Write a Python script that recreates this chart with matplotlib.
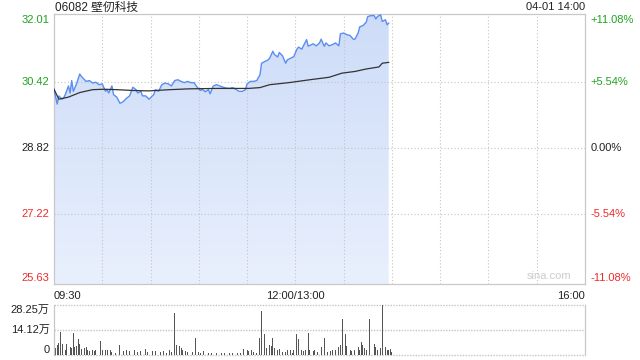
import matplotlib
matplotlib.use('Agg')
import matplotlib.pyplot as plt
import numpy as np
from matplotlib.colors import LinearSegmentedColormap
from matplotlib.transforms import offset_copy

plt.rcParams['font.family'] = ['Liberation Sans', 'Noto Sans CJK SC', 'DejaVu Sans']

# ---------------- data ----------------
title = "06082 壁仞科技"
stamp = "04-01 14:00"
prev_close = 28.82
price_ticks = [32.01, 30.42, 28.82, 27.22, 25.63]
pct_ticks = ["+11.08%", "+5.54%", "0.00%", "-5.54%", "-11.08%"]
time_ticks = [0, 150, 330]
time_labels = ["09:30", "12:00/13:00", "16:00"]
vol_tick_vals = [28.25, 14.12, 0]
vol_tick_labels = ["28.25万", "14.12万", "0"]

# minutes since 09:30 (lunch break removed)
price_min = [0, 2, 3, 5, 6, 7, 9, 10, 11, 12, 14, 16, 17, 19, 20, 22, 24, 26, 28, 30,
             32, 33, 34, 36, 37, 39, 41, 43, 45, 47, 49, 51, 52, 54, 55, 57, 59, 62, 63, 65,
             67, 69, 71, 73, 75, 77, 79, 81, 83, 85, 87, 89, 91, 92, 94, 96, 97, 99, 101, 103,
             105, 107, 109, 111, 113, 115, 117, 119, 120, 122, 124, 126, 128, 129, 131, 133, 134, 136, 137, 139,
             140, 142, 144, 145, 147, 149, 151, 152, 154, 155, 157, 158, 161, 163, 165, 166, 168, 169, 171, 173,
             175, 177, 178, 180, 182, 184, 186, 187, 189, 190, 192, 194, 195, 197, 199, 200, 201, 203, 204, 206,
             207, 208]
price = [30.24, 29.88, 30.08, 30.00, 30.03, 30.11, 30.32, 30.15, 30.45, 30.19, 30.37, 30.61, 30.55, 30.47, 30.43, 30.45, 30.39, 30.41, 30.35, 30.37,
         30.19, 30.23, 30.15, 30.32, 30.11, 30.05, 29.90, 29.94, 30.02, 30.08, 30.29, 30.23, 30.15, 30.19, 30.08, 30.08, 30.00, 30.11, 30.23, 30.19,
         30.35, 30.39, 30.37, 30.32, 30.45, 30.47, 30.43, 30.40, 30.43, 30.40, 30.40, 30.29, 30.21, 30.24, 30.18, 30.23, 30.13, 30.32, 30.35, 30.32,
         30.29, 30.27, 30.26, 30.28, 30.24, 30.19, 30.19, 30.23, 30.37, 30.43, 30.43, 30.45, 30.59, 30.87, 30.91, 30.95, 30.99, 31.16, 31.08, 31.02,
         31.13, 31.05, 30.87, 30.95, 30.99, 31.03, 31.21, 31.26, 31.21, 31.29, 31.44, 31.28, 31.34, 31.29, 31.36, 31.45, 31.28, 31.36, 31.29, 31.32,
         31.36, 31.29, 31.58, 31.60, 31.56, 31.54, 31.45, 31.45, 31.60, 31.75, 31.78, 31.86, 32.00, 32.02, 32.02, 31.94, 32.00, 32.04, 31.88, 31.92,
         31.80, 31.84]

avg_min = [0, 3, 9, 16, 24, 31, 39, 49, 59, 72, 84, 101, 121, 128, 134, 146, 159, 171, 179, 187, 194, 202, 204, 208]
avg = [30.24, 30.00, 30.05, 30.16, 30.23, 30.24, 30.23, 30.21, 30.20, 30.23, 30.25, 30.26, 30.26, 30.28, 30.35, 30.40, 30.47, 30.53, 30.63, 30.67, 30.73, 30.78, 30.87, 30.89]

# volume in 万 shares
vol_min = [1, 2, 3, 4, 5, 7, 8, 10, 11, 12, 13, 14, 15, 16, 17, 19, 20, 21, 22, 24,
           25, 26, 29, 30, 32, 33, 35, 36, 38, 41, 43, 45, 47, 50, 52, 54, 57, 58, 61, 63,
           66, 68, 70, 72, 73, 75, 76, 78, 79, 80, 82, 83, 86, 88, 90, 91, 93, 96, 98, 101,
           104, 106, 109, 111, 114, 116, 118, 120, 121, 123, 124, 126, 128, 129, 131, 132, 134, 135, 136, 137,
           139, 140, 142, 144, 145, 147, 148, 149, 151, 152, 154, 155, 156, 158, 159, 161, 162, 164, 166, 168,
           170, 172, 173, 175, 177, 178, 179, 181, 182, 184, 185, 187, 189, 190, 191, 192, 193, 194, 196, 197,
           199, 200, 201, 203, 204, 206, 207, 208, 209, 210]
vol = [4.0, 5.9, 6.8, 13.2, 6.4, 3.1, 6.4, 4.6, 4.0, 12.7, 4.6, 5.3, 9.0, 6.4, 3.5, 4.0, 4.6, 3.1, 2.2, 2.8,
       2.2, 2.8, 7.7, 2.8, 2.8, 3.1, 2.8, 1.7, 1.3, 5.9, 2.2, 2.8, 2.2, 3.1, 1.7, 2.2, 3.5, 1.7, 2.2, 2.2,
       1.7, 2.2, 1.3, 3.1, 1.7, 23.7, 5.9, 5.3, 4.0, 2.8, 2.2, 1.7, 1.7, 9.5, 1.7, 1.3, 2.2, 1.3, 1.3, 0.9,
       1.3, 0.9, 0.9, 0.9, 0.9, 1.3, 3.5, 2.8, 2.2, 3.1, 1.7, 1.3, 9.5, 24.8, 11.9, 4.0, 5.9, 5.3, 9.5, 4.0,
       3.1, 3.5, 1.7, 1.7, 2.8, 3.1, 1.3, 2.8, 11.9, 9.0, 3.1, 2.2, 3.1, 12.7, 2.8, 2.2, 2.8, 1.7, 4.6, 9.5,
       1.7, 2.2, 3.1, 2.8, 4.6, 5.9, 20.5, 11.9, 5.3, 2.8, 2.2, 2.8, 4.6, 3.1, 7.2, 5.9, 4.0, 3.1, 20.5, 7.7,
       6.4, 4.6, 3.1, 4.0, 28.25, 4.6, 3.1, 2.8, 3.5, 1.7]

# ---------------- style ----------------
GREEN = '#1fa31f'
RED = '#ee2b2b'
BORDER = '#c8c8c8'
GRID = '#c4c4c4'
LINE = '#5b8ef0'

W, H = 640, 360
fig = plt.figure(figsize=(6.4, 3.6), dpi=100)

def px_rect(l, t, r, b):
    return [l / W, 1 - b / H, (r - l) / W, (b - t) / H]

ax = fig.add_axes(px_rect(54, 14, 585, 284))
axv = fig.add_axes(px_rect(54, 305, 585, 355))

ymin, ymax = 25.53, 32.06
ax.set_xlim(0, 330)
ax.set_ylim(ymin, ymax)

# gradient fill under price line
xs = np.array(price_min, dtype=float)
ys = np.array(price, dtype=float)
poly = ax.fill_between(xs, ys, ymin, color='none', lw=0)
cmap = LinearSegmentedColormap.from_list('g', ['#e9f0fd', '#cddcf8'])
grad = np.linspace(0, 1, 256).reshape(-1, 1)
im = ax.imshow(grad, cmap=cmap, aspect='auto', origin='lower',
               extent=[0, 330, ymin, ymax], zorder=1)
path = poly.get_paths()[0]
im.set_clip_path(path, transform=ax.transData)

ax.plot(price_min, price, color=LINE, lw=1.0, zorder=3)
ax.plot(avg_min, avg, color='#333333', lw=0.9, zorder=3)

# grids
for m in range(30, 330, 30):
    ax.axvline(m, color=GRID, lw=0.8, ls=(0, (1, 2)), zorder=2)
for v in price_ticks[1:-1]:
    ax.axhline(v, color=GRID, lw=0.8, ls=(0, (1, 2)), zorder=2)

for s in ax.spines.values():
    s.set_color(BORDER)
    s.set_linewidth(0.9)
ax.set_xticks([])
ax.set_yticks([])

# price labels (left) and percent labels (right)
colors = [GREEN, GREEN, '#222222', RED, RED]
shifts = [-4, 0, 0, 0, 1.5]  # points; keeps the extreme labels inside the frame
for v, c, p, sh in zip(price_ticks, colors, pct_ticks, shifts):
    tr = offset_copy(ax.get_yaxis_transform(), fig=fig, x=0, y=sh * 0.72, units='points')
    ax.text(-0.008, v, f"{v:.2f}", transform=tr,
            ha='right', va='center', fontsize=8, color=c)
    ax.text(1.01, v, p, transform=tr,
            ha='left', va='center', fontsize=8, color=c)

# time labels
has = ['left', 'center', 'right']
for t, lab, ha in zip(time_ticks, time_labels, has):
    ax.text(t, -0.025, lab, transform=ax.get_xaxis_transform(),
            ha=ha, va='top', fontsize=8, color='#222222')

fig.text(55 / W, 1 - 7.5 / H, title, ha='left', va='center',
         fontsize=8.5, color='#222222')
fig.text(585 / W, 1 - 7.5 / H, stamp, ha='right', va='center',
         fontsize=8, color='#222222')
ax.text(0.975, 0.012, "sina.com", transform=ax.transAxes, ha='right', va='bottom',
        fontsize=8, color='#cccccc')

# volume panel
axv.set_xlim(0, 330)
axv.set_ylim(0, 28.25)
axv.bar(vol_min, vol, width=0.6, color='#555555', zorder=2)
for v in vol_tick_vals:
    axv.axhline(v, color=GRID, lw=1.0, ls=(0, (1, 1)), zorder=1, clip_on=False)
for side in ['top', 'bottom']:
    axv.spines[side].set_visible(False)
for side in ['left', 'right']:
    axv.spines[side].set_color(BORDER)
    axv.spines[side].set_linewidth(0.9)
axv.set_xticks([])
axv.set_yticks([])
vas = ['top', 'center', 'bottom']
for v, lab, va in zip(vol_tick_vals, vol_tick_labels, vas):
    axv.text(-0.008, v, lab, transform=axv.get_yaxis_transform(),
             ha='right', va=va, fontsize=8, color='#222222')

fig.savefig('out.png', dpi=100, facecolor='white')
